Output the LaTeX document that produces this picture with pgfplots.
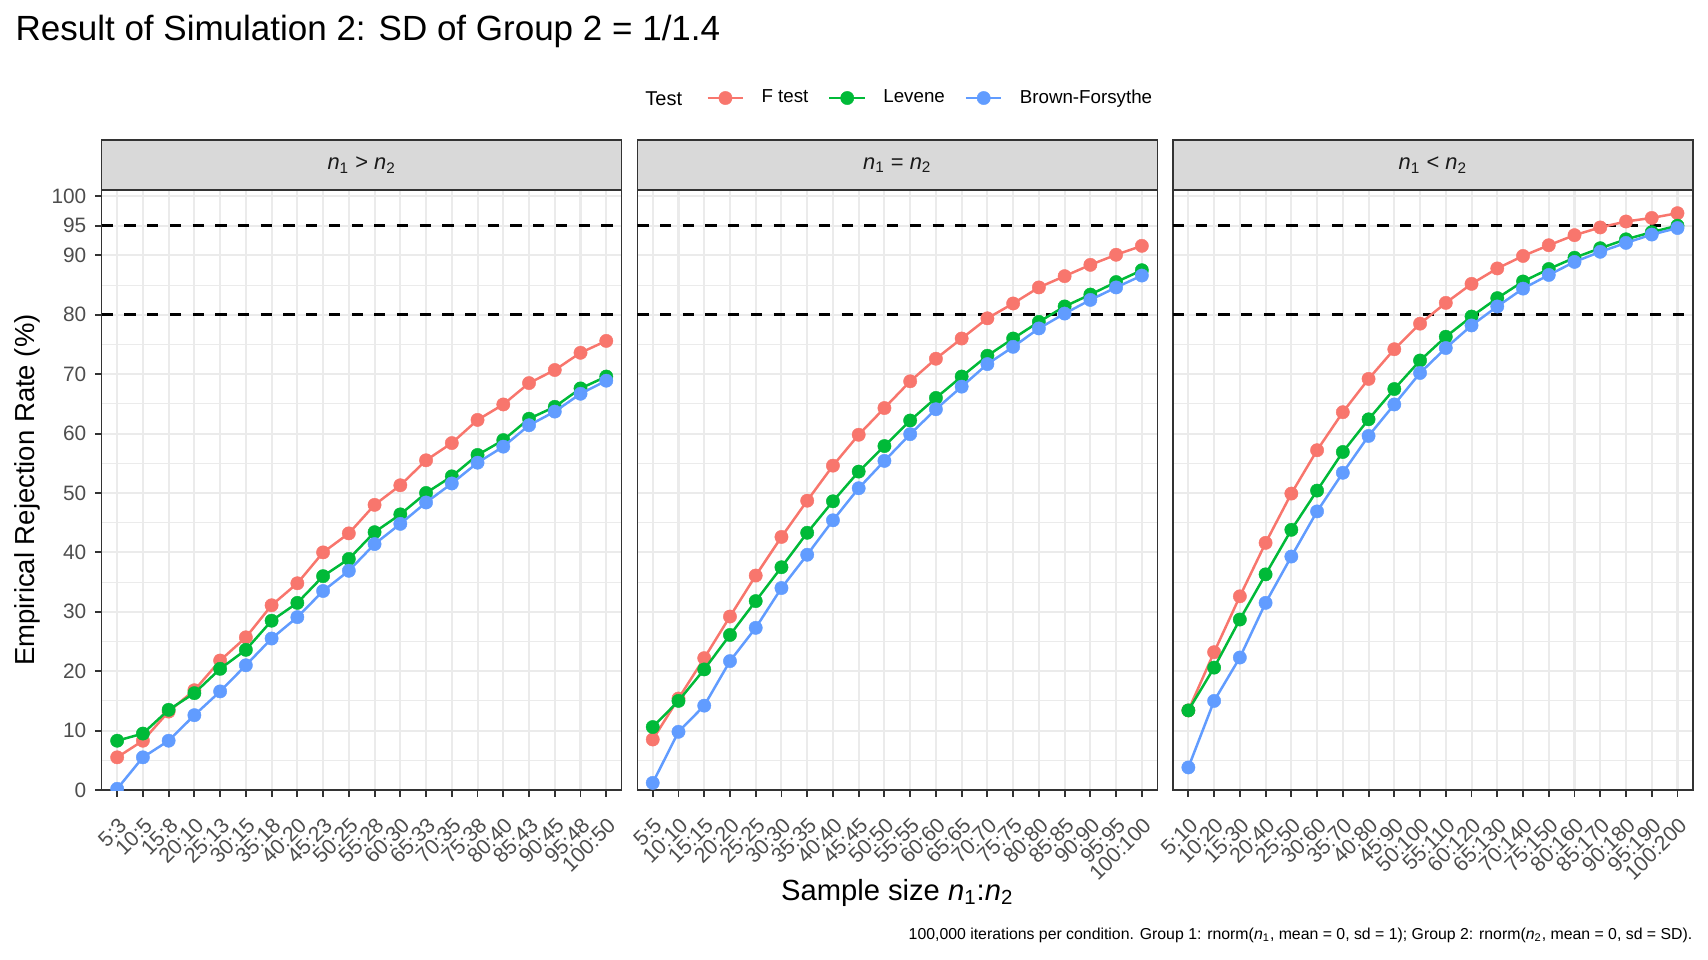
\documentclass[border=0pt]{standalone}
\usepackage{fontspec}
\setmainfont{Liberation Sans}
\usepackage{pgfplots}
\usepackage{pgfplotstable}
\pgfplotsset{compat=1.18}

\definecolor{cF}{HTML}{F8766D}
\definecolor{cL}{HTML}{00BA38}
\definecolor{cB}{HTML}{619CFF}
\definecolor{gridc}{HTML}{EBEBEB}
\definecolor{g20}{HTML}{333333}
\definecolor{g30}{HTML}{4D4D4D}
\definecolor{g85}{HTML}{D9D9D9}
\definecolor{g10}{HTML}{1A1A1A}

\pgfplotstableread{
x F L B
0 5.5 8.3 0.2
1 8.3 9.5 5.5
2 13.2 13.5 8.3
3 16.8 16.3 12.6
4 21.8 20.4 16.6
5 25.7 23.6 21.0
6 31.1 28.5 25.5
7 34.8 31.5 29.1
8 40.0 36.0 33.5
9 43.2 38.9 36.9
10 48.0 43.4 41.4
11 51.3 46.4 44.8
12 55.5 50.0 48.4
13 58.4 52.8 51.6
14 62.3 56.4 55.1
15 64.9 58.9 57.8
16 68.5 62.5 61.4
17 70.7 64.5 63.7
18 73.6 67.6 66.7
19 75.6 69.6 68.9
}\tabA

\pgfplotstableread{
x F L B
0 8.5 10.6 1.2
1 15.4 15.0 9.8
2 22.2 20.3 14.2
3 29.2 26.1 21.7
4 36.1 31.8 27.3
5 42.6 37.5 34.0
6 48.7 43.3 39.6
7 54.6 48.6 45.4
8 59.8 53.6 50.8
9 64.3 57.9 55.4
10 68.8 62.2 59.9
11 72.6 66.0 64.1
12 76.0 69.6 67.9
13 79.4 73.1 71.7
14 81.9 76.0 74.6
15 84.6 78.8 77.7
16 86.5 81.4 80.2
17 88.4 83.4 82.5
18 90.1 85.5 84.6
19 91.6 87.5 86.6
}\tabB

\pgfplotstableread{
x F L B
0 13.4 13.4 3.8
1 23.2 20.6 15.0
2 32.6 28.7 22.3
3 41.6 36.3 31.5
4 49.9 43.8 39.3
5 57.2 50.4 46.9
6 63.6 56.9 53.4
7 69.2 62.4 59.6
8 74.2 67.5 64.9
9 78.5 72.3 70.2
10 82.0 76.3 74.4
11 85.2 79.7 78.2
12 87.8 82.8 81.4
13 89.9 85.6 84.4
14 91.7 87.7 86.7
15 93.4 89.6 88.9
16 94.7 91.2 90.6
17 95.7 92.7 92.1
18 96.3 93.9 93.5
19 97.1 95.0 94.6
}\tabC

\pgfplotsset{
  panel/.style={
    scale only axis, width=249.6pt, height=288pt,
    xmin=-0.6, xmax=19.6, ymin=0, ymax=101,
    xtick={0,...,19},
    ytick={0,10,20,30,40,50,60,70,80,90,95,100},
    minor ytick={5,15,25,35,45,55,65,75,85},
    grid=both,
    major grid style={gridc, line width=1pt},
    minor grid style={gridc, line width=0.5pt},
    axis line style={g20, line width=0.7pt},
    tick align=outside, tick pos=left,
    major tick length=3.2pt, minor tick length=0pt,
    tick style={g20, line width=0.9pt},
    /pgf/number format/assume math mode=true,
    xticklabel style={rotate=45, anchor=north east, inner sep=0pt,
      font=\fontsize{10.2}{12}\selectfont, text=g30},
    yticklabel style={anchor=east, inner sep=0pt,
      font=\fontsize{10}{12}\selectfont, text=g30},
    xticklabel shift=9.3pt,
    yticklabel shift=4pt,
    clip marker paths=true,
  },
  ser/.style={color=#1, line width=1.2pt, mark=*, mark size=3.2pt,
    mark options={solid, fill=#1, draw=#1, line width=0.2pt}},
  hl/.style={black, line width=1.3pt, dash pattern=on 5.4pt off 5.5pt, forget plot},
}

\begin{document}
\begin{tikzpicture}
\useasboundingbox (0,0) rectangle (819.84pt,-460.8pt);

\node[anchor=base west, font=\fontsize{16.8}{20}\selectfont, inner sep=0pt] at (7.3pt,-19.35pt) {Result of Simulation 2: SD of Group 2 = 1/1.4};

% panel 1
\begin{axis}[panel, at={(48.82pt,-379.2pt)}, anchor=south west,
  xticklabels={5:3,10:5,15:8,20:10,25:13,30:15,35:18,40:20,45:23,50:25,55:28,60:30,65:33,70:35,75:38,80:40,85:43,90:45,95:48,100:50}]
\addplot[hl] coordinates {(-0.6,80) (19.6,80)};
\addplot[hl] coordinates {(-0.6,95) (19.6,95)};
\addplot[ser=cF] table[x=x,y=F] {\tabA};
\addplot[ser=cL] table[x=x,y=L] {\tabA};
\addplot[ser=cB] table[x=x,y=B] {\tabA};
\end{axis}

% panel 2
\begin{axis}[panel, at={(305.9pt,-379.2pt)}, anchor=south west,
  yticklabels={}, ytick style={draw=none},
  xticklabels={5:5,10:10,15:15,20:20,25:25,30:30,35:35,40:40,45:45,50:50,55:55,60:60,65:65,70:70,75:75,80:80,85:85,90:90,95:95,100:100},
  legend columns=3,
  legend style={draw=none, fill=none, at={(0.1321,1.1533)}, anchor=west,
    inner sep=0pt, font=\fontsize{9}{10}\selectfont, nodes={inner sep=0pt},
    /tikz/every odd column/.append style={column sep=8.2pt},
    /tikz/every even column/.append style={column sep=9.5pt}},
  legend cell align=left]
\addplot[hl] coordinates {(-0.6,80) (19.6,80)};
\addplot[hl] coordinates {(-0.6,95) (19.6,95)};
\addplot[ser=cF] table[x=x,y=F] {\tabB};
\addlegendentry{F test}
\addplot[ser=cL] table[x=x,y=L] {\tabB};
\addlegendentry{Levene}
\addplot[ser=cB] table[x=x,y=B] {\tabB};
\addlegendentry{Brown-Forsythe}
\end{axis}

% panel 3
\begin{axis}[panel, at={(563.0pt,-379.2pt)}, anchor=south west,
  yticklabels={}, ytick style={draw=none},
  xticklabels={5:10,10:20,15:30,20:40,25:50,30:60,35:70,40:80,45:90,50:100,55:110,60:120,65:130,70:140,75:150,80:160,85:170,90:180,95:190,100:200}]
\addplot[hl] coordinates {(-0.6,80) (19.6,80)};
\addplot[hl] coordinates {(-0.6,95) (19.6,95)};
\addplot[ser=cF] table[x=x,y=F] {\tabC};
\addplot[ser=cL] table[x=x,y=L] {\tabC};
\addplot[ser=cB] table[x=x,y=B] {\tabC};
\end{axis}

% strips
\foreach \lx/\lab in {48.82/{\textit{n}\textsubscript{1} > \textit{n}\textsubscript{2}},305.9/{\textit{n}\textsubscript{1} = \textit{n}\textsubscript{2}},563.0/{\textit{n}\textsubscript{1} < \textit{n}\textsubscript{2}}}{
  \draw[g20, fill=g85, line width=0.7pt] (\lx pt,-67.2pt) rectangle ++(249.6pt,-24pt);
  \node[font=\fontsize{10.5}{12}\selectfont, text=g10] at (\lx pt+124.8pt,-79.2pt) {\lab};
}

\node[anchor=base west, font=\fontsize{9.6}{11}\selectfont, inner sep=0pt] at (309.6pt,-50.4pt) {Test};

\node[rotate=90, font=\fontsize{13.2}{15}\selectfont] at (13.1pt,-235.2pt) {Empirical Rejection Rate (\%)};
\node[anchor=base, font=\fontsize{14}{16}\selectfont, inner sep=0pt] at (430.7pt,-432pt) {Sample size \textit{n}\textsubscript{1}:\textit{n}\textsubscript{2}};
\node[anchor=base east, font=\fontsize{7.6}{9}\selectfont, inner sep=0pt] at (812.5pt,-451pt) {100,000 iterations per condition. Group 1: rnorm(\textit{n}\textsubscript{1}, mean = 0, sd = 1); Group 2: rnorm(\textit{n}\textsubscript{2}, mean = 0, sd = SD).};
\end{tikzpicture}
\end{document}
